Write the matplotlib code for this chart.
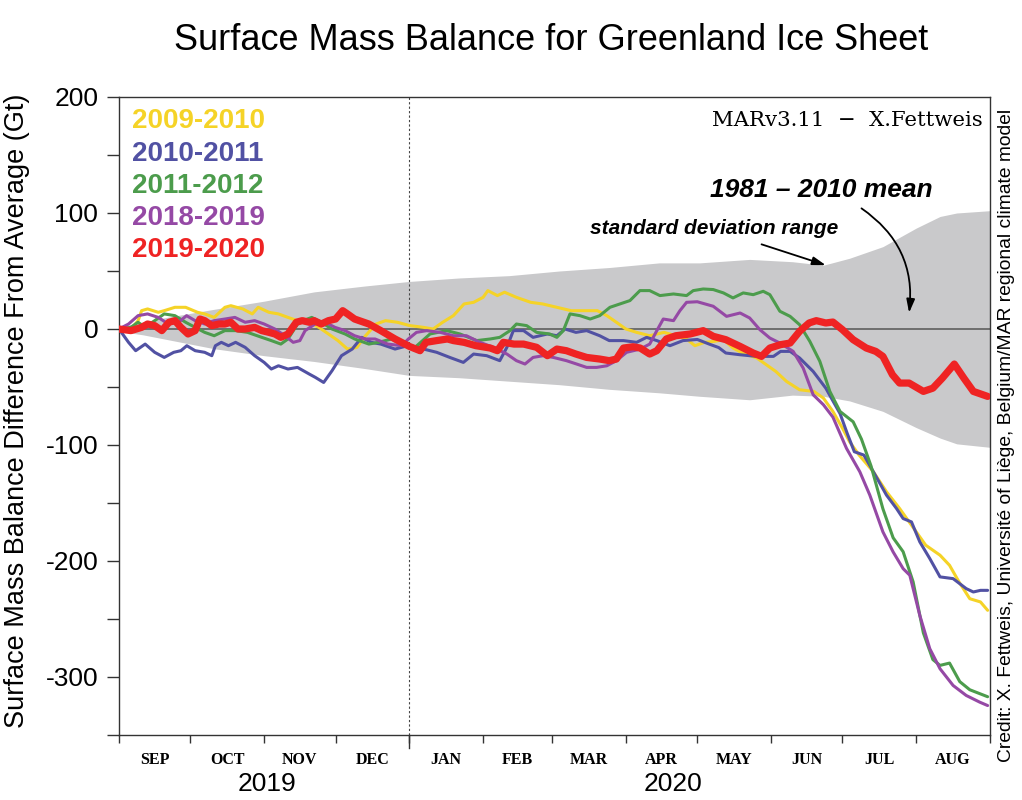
import matplotlib
matplotlib.use("Agg")
import matplotlib.pyplot as plt
import matplotlib.transforms as mtransforms

# ---------------- data (days since 1 Sep 2019, Gt) ----------------
month_names = ["SEP", "OCT", "NOV", "DEC", "JAN", "FEB", "MAR", "APR", "MAY", "JUN", "JUL", "AUG"]
month_starts = [0, 30, 61, 91, 122, 153, 182, 213, 243, 274, 304, 335, 366]
year_labels = ["2019", "2020"]
year_label_days = [62, 233]

band_days = [0, 10, 20, 40, 61, 82, 103, 122, 143, 164, 185, 206, 227, 244, 265, 283, 296, 307, 321, 335, 345, 352, 366]
band_upper = [2, 6, 10, 17, 24, 32, 37, 41, 44, 46, 50, 53, 57, 57, 60, 58, 55, 61, 71, 87, 97, 100, 102]
band_lower = [-2, -5, -9, -17, -23, -28, -34, -40, -42, -45, -48, -52, -55, -58, -61, -57, -58, -62, -71, -85, -94, -99, -102]

y_2009_days = [0, 4, 8, 9.5, 12, 16.5, 19, 23.5, 28, 33,
               36, 40, 44.5, 47, 52, 56, 58.5, 63, 67, 71,
               75, 80, 84, 88, 92, 96, 100, 103, 108, 112,
               117, 122, 128, 132, 136, 140.5, 145, 149, 153, 155,
               159, 162, 167, 173, 178, 184, 190, 195, 201, 205,
               209, 213, 217.5, 223, 229, 234, 238.5, 242, 246, 250,
               254, 258, 262, 268, 272, 276, 280.5, 286, 292, 296,
               300, 304, 307, 311, 317, 322.5, 328, 334, 339, 345,
               349, 353, 357.5, 362, 365]
y_2009_vals = [0, -2, 7, 15.8, 17.3, 14.4, 15.8, 18.7, 18.7, 14.4,
               13, 10, 18.7, 20.1, 17.3, 13, 18.7, 14.4, 13, 10,
               7.2, 5.8, 1.4, -4.3, -10, -17.3, -15.8, -7.2, 4.3, 7.2,
               5.8, 3, 1.4, 0, 5.8, 11.5, 21.6, 23, 27.3, 33.1,
               28.8, 31.7, 27.3, 23, 21.6, 18.7, 15.8, 15.8, 15.8, 11.5,
               5.8, 0, -2.9, -5.8, -2.9, -5.8, -8.6, -14.4, -11.5, -10.7,
               -9.2, -16.4, -20.7, -25, -30.8, -36.6, -45.2, -52.4, -53.8, -59.6,
               -71.1, -85.5, -97.2, -108.7, -123.1, -140.3, -154.7, -172, -186.4, -195,
               -203.7, -218.1, -232.5, -235.3, -242.5]

y_2010_days = [0, 4, 7, 11, 15, 19, 23, 26, 28.5, 32,
               36, 39, 40.5, 43, 46, 49, 53, 57, 61, 64,
               67, 71, 75, 80, 82.5, 86, 89.5, 93.5, 98, 102,
               106, 110, 116, 122, 128, 133.5, 139, 144.7, 149, 154.5,
               160, 163, 165.7, 170, 174, 180, 184, 187.4, 192, 196.5,
               202, 206, 212, 217.5, 221.7, 226, 231.5, 237, 243, 248,
               252, 255, 261, 268, 275, 278, 282, 286, 291.7, 297,
               303, 306, 309, 313, 317, 322.5, 326.7, 329.5, 333, 336.5,
               340.7, 345, 350.5, 356, 359, 362, 365]
y_2010_vals = [0, -11.5, -18.7, -13, -20.1, -24.5, -20.1, -18.7, -14.4, -18.7,
               -20.1, -23, -14.4, -11.5, -14.4, -11.5, -15.8, -23, -28.8, -34.5,
               -31.7, -34.5, -33.1, -38.9, -41.7, -46.1, -36, -23, -17.3, -7.2,
               -11.5, -13, -17.3, -14, -17.3, -20.1, -24.5, -28.8, -21.6, -23,
               -27.3, -15.8, -1.4, -1.4, -7.2, -4.3, -5.8, 0, -2.9, -1.4,
               -5.8, -10, -10, -11.5, -7.2, -10, -14.4, -10, -9, -13,
               -16, -20.7, -22.2, -23.6, -23.6, -19.3, -19.3, -25, -36.6, -51,
               -73, -90, -105.8, -108.7, -123.1, -143.2, -154.7, -163.4, -166.3, -183.5,
               -197.9, -213.7, -215.2, -223.8, -226.7, -225.3, -225.3]

y_2011_days = [0, 5, 8, 11, 15, 19, 23.5, 28, 32, 36,
               40, 44.5, 49, 54, 60, 64, 68, 71, 75.5, 81,
               85, 89.5, 95, 99, 105, 109, 114.6, 120, 124.4, 130.7,
               137.7, 143.3, 150.3, 156, 160, 164.3, 167, 171.3, 175.5, 181,
               184, 186.7, 189.5, 193.7, 198, 202, 206.3, 210.5, 214.7, 218.9,
               223, 227.3, 233, 238.5, 241.3, 245.5, 249.7, 254, 258, 262.3,
               266.5, 270.7, 273.5, 277.7, 282, 286, 290.3, 294.5, 298.7, 303,
               308.5, 312, 316, 321, 325.3, 329.5, 333.7, 338, 342, 345,
               349, 353.3, 357.5, 365]
y_2011_vals = [0, 1.4, 5.8, 1.4, 7.2, 13, 11.5, 5.8, 1.4, -2.9,
               -5.8, -1.4, -1.4, -2.9, -7.2, -10, -13, -8.6, 5.8, 10,
               5.8, 0, -4.3, -8.6, -13, -11.5, -8.6, -14.4, -15.8, -4.3,
               -1.4, -4.3, -10, -8.6, -7.2, -1.4, 4.3, 2.9, -2.9, -4.3,
               -7.2, -1.4, 13, 11.5, 8.6, 11.5, 18.7, 21.6, 24.5, 33.1,
               33.1, 28.8, 30.2, 28.8, 33.1, 34.5, 34, 31.1, 26.8, 31.1,
               29.6, 32.5, 29.6, 15.3, 10.9, 3.7, -10.7, -27.9, -53.8, -71.1,
               -80, -95, -118, -155, -180, -192, -218, -262, -285, -290,
               -288, -304, -311, -317]

y_2018_days = [0, 4, 8, 12, 16.5, 20.7, 25, 28.4, 32, 36,
               40, 44.5, 48.7, 53, 57, 61, 65.5, 69.7, 73.2, 76,
               78.2, 82.4, 86.6, 90.8, 95, 99, 103.4, 107.6, 113, 118.8,
               121.6, 125, 129.3, 135, 140.5, 146, 151.7, 157.3, 163, 167,
               170.6, 174, 178.3, 182.5, 188, 192.3, 196.5, 200.7, 205, 209,
               213.3, 219, 223, 226, 228.7, 233, 235.7, 238.5, 243, 249.7,
               255.3, 261, 265, 269.3, 273.5, 277.7, 283.3, 287.5, 291.7, 296,
               300, 305.7, 311.3, 315.5, 321, 325.3, 329.5, 332.3, 336.5, 340.7,
               345, 350.5, 356, 361.7, 365]
y_2018_vals = [0, 4.3, 11.5, 13, 10, 4.3, 5.8, 11.5, 7.2, 4.3,
               7.2, 8.6, 10, 5.8, 7.2, 4.3, 0, -5.8, -11.5, -10,
               -1.4, 4.3, 5.8, 1.4, -1.4, -5.8, -8.6, -8.6, -13, -14.4,
               -8.6, -2.9, -1.4, -2.9, -5.8, -5.8, -11.5, -15.8, -21.6, -27.3,
               -30.2, -24.5, -23, -24.5, -27.3, -30.2, -33.1, -33.1, -31.7, -27.3,
               -20.1, -17.3, -13, -1.4, 8.6, 7.2, 15.8, 23, 23.5, 19.6,
               10.9, 13.8, 9.5, -0.6, -7.8, -12.1, -19.3, -33.7, -56.7, -65.3,
               -76, -102.9, -123.1, -143.2, -174.9, -192.2, -206.6, -212.3, -246.9, -275.6,
               -292.9, -307.3, -315.9, -321.7, -324.6]

y_2019_days = [0, 5, 9.5, 12, 15, 18, 21, 23.5, 26, 29,
               32, 34, 36, 39, 42, 44.5, 47, 50, 53, 57,
               60, 63, 65.5, 68, 71, 74.5, 77, 80, 82, 85,
               88, 91, 94, 96, 99, 105, 110, 116, 122, 126.5,
               129, 133.5, 138, 140.5, 145, 150, 156, 159, 161.5, 166,
               170, 175.5, 180, 184, 188, 192, 196.5, 202, 206, 209,
               212, 216, 219, 223, 226, 230, 234, 240, 245.5, 249.7,
               255, 261, 266.5, 270, 273.5, 278, 282, 286, 290, 293,
               297, 300, 304, 308.5, 314, 318, 321, 325, 328, 332,
               338, 342, 346, 351, 355, 359, 365]
y_2019_vals = [0, -1.4, 1.4, 4.3, 2.9, -1.4, 5.8, 7.2, 1.4, -4.3,
               -1.4, 8.6, 7.2, 2.9, 4.3, 4.3, 5.8, 0, 0, 1.4,
               -1.4, -2.9, -4.3, -7.2, -4.3, 5.8, 7.2, 5.8, 7.2, 4.3,
               7.2, 8.6, 15.8, 13, 8.6, 4.3, -1.4, -8.6, -15, -18.7,
               -11.5, -10, -8.6, -10, -11.5, -14.4, -16.4, -18.7, -11.5, -13,
               -13, -15.8, -23, -17.3, -18.7, -21.6, -24.5, -25.9, -27.3, -25.9,
               -16.4, -15.3, -16.4, -21.6, -18.7, -8.6, -5.8, -4.3, -1.4, -6.3,
               -9.2, -15, -20.7, -23.6, -16.4, -13.5, -12.1, -2, 5.2, 7.2,
               5.2, 6, -0.6, -9.2, -16.4, -19.3, -23.6, -39.4, -46.6, -46.6,
               -53.8, -51, -42.3, -30.2, -42.3, -53.8, -58.1]

series_labels = ["2009-2010", "2010-2011", "2011-2012", "2018-2019", "2019-2020"]
series_days = [y_2009_days, y_2010_days, y_2011_days, y_2018_days, y_2019_days]
series_vals = [y_2009_vals, y_2010_vals, y_2011_vals, y_2018_vals, y_2019_vals]
series_colors = ["#f5d327", "#5151a3", "#4c9c4c", "#9549a5", "#ef2323"]
series_widths = [2.2, 2.2, 2.2, 2.2, 5.2]

# ---------------- figure ----------------
SANS = ["Liberation Sans", "DejaVu Sans"]
SERIF = ["Liberation Serif", "DejaVu Serif"]
plt.rcParams["font.family"] = SANS

fig = plt.figure(figsize=(10.22, 8.0), dpi=100)
ax = fig.add_axes([119 / 1022, 65 / 800, 871 / 1022, 638 / 800])

ax.fill_between(band_days, band_lower, band_upper, color="#c9c9cb", lw=0, zorder=1)
ax.axhline(0, color="#555555", lw=1.1, zorder=2)
ax.axvline(month_starts[4], color="#444444", lw=0.8, ls=(0, (2, 2)), zorder=2)

for d, v, c, w in zip(series_days, series_vals, series_colors, series_widths):
    assert len(d) == len(v)
    ax.plot(d, v, color=c, lw=w, solid_joinstyle="round", solid_capstyle="round", zorder=3)

ax.set_xlim(0, 366)
ax.set_ylim(-350, 200)

# y axis
ax.set_yticks(range(-350, 201, 50))
ax.set_yticklabels([str(t) if t % 100 == 0 else "" for t in range(-350, 201, 50)],
                   fontsize=19, family=SANS)
ax.tick_params(axis="y", direction="out", length=9, width=1, color="#333333", pad=6)

# x axis: boundaries as major ticks, names at mid-month
ax.set_xticks(month_starts)
ax.set_xticklabels([""] * len(month_starts))
mids = [(a + b) / 2 for a, b in zip(month_starts[:-1], month_starts[1:])]
ax.set_xticks(mids, minor=True)
ax.set_xticklabels(month_names, minor=True, fontsize=11.5, family=SERIF, fontweight="bold")
ax.tick_params(axis="x", which="major", direction="out", length=6, width=1, color="#333333")
ax.tick_params(axis="x", which="minor", length=0, pad=12)

trans = mtransforms.blended_transform_factory(ax.transData, ax.transAxes)
ax.plot([month_starts[4], month_starts[4]], [0, -0.02], transform=trans, color="#333333",
        lw=1, clip_on=False)

for lab, d in zip(year_labels, year_label_days):
    ax.text(d, -0.077, lab, transform=trans, ha="center", va="center", fontsize=19, family=SANS)

for sp in ax.spines.values():
    sp.set_color("#333333")
    sp.set_linewidth(1.0)

# legend text
for i, (lab, c) in enumerate(zip(series_labels, series_colors)):
    ax.text(0.015, 0.962 - i * 0.0506, lab, transform=ax.transAxes, color=c,
            fontsize=20, fontweight="bold", va="center", ha="left", family=SANS)

ax.text(0.992, 0.963, "MARv3.11  \u2212  X.Fettweis", transform=ax.transAxes, ha="right",
        va="center", fontsize=15.3, family=["DejaVu Serif"])

ax.text(0.806, 0.855, "1981 \u2013 2010 mean", transform=ax.transAxes, ha="center", va="center",
        fontsize=19, fontweight="bold", fontstyle="italic", family=SANS)
ax.text(0.683, 0.794, "standard deviation range", transform=ax.transAxes, ha="center",
        va="center", fontsize=15, fontweight="bold", fontstyle="italic", family=SANS)

ax.annotate("", xy=(297, 55), xytext=(270, 73),
            arrowprops=dict(arrowstyle="-|>,head_length=0.8,head_width=0.25", color="black",
                            lw=1.3, shrinkA=0, shrinkB=0), zorder=5)
ax.annotate("", xy=(332, 14), xytext=(312, 104),
            arrowprops=dict(arrowstyle="-|>,head_length=0.8,head_width=0.25", color="black",
                            lw=1.3, shrinkA=0, shrinkB=0,
                            connectionstyle="arc3,rad=-0.3"), zorder=5)

fig.text(0.539, 0.95, "Surface Mass Balance for Greenland Ice Sheet", ha="center", va="center",
         fontsize=26, family=SANS)
fig.text(0.017, 0.487, "Surface Mass Balance Difference From Average (Gt)", rotation=90,
         ha="center", va="center", fontsize=19.5, family=SANS)
fig.text(0.985, 0.456,
         "Credit: X. Fettweis, Universit\u00e9 of Li\u00e8ge, Belgium/MAR regional climate model",
         rotation=90, ha="center", va="center", fontsize=13.9, family=SANS)

fig.savefig("out.png", dpi=100)
